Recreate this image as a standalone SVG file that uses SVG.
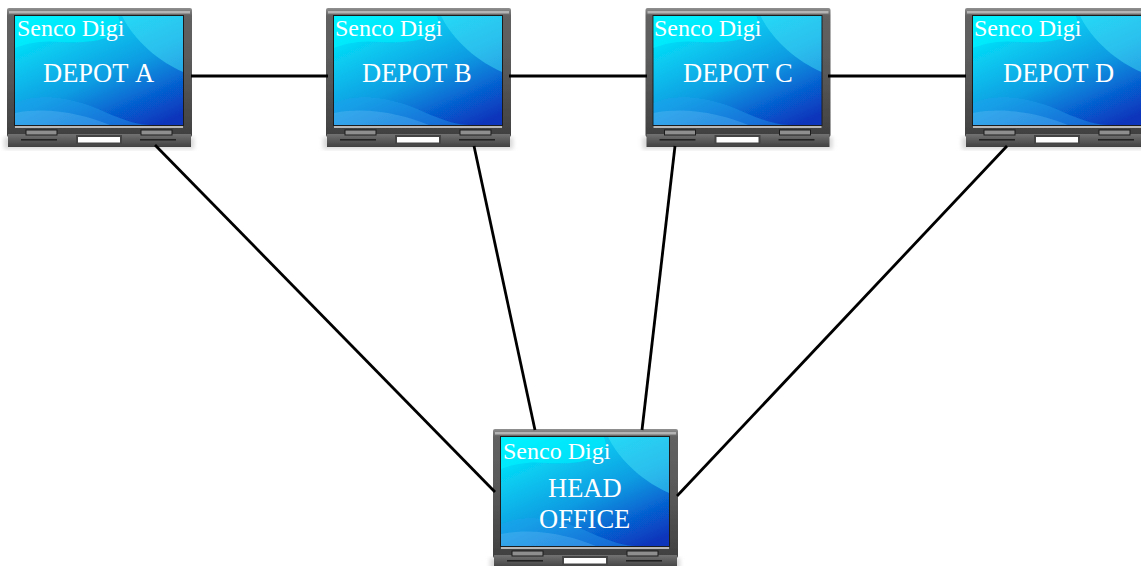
<svg xmlns="http://www.w3.org/2000/svg" width="1141" height="566" viewBox="0 0 1141 566">
<style>
.c{stroke:#000;stroke-width:2.8;fill:none}
text{font-family:"Liberation Serif","Times New Roman",serif;fill:#fff;font-kerning:none}
.b{font-size:24px}
.l{font-size:26.5px}
</style>
<defs>
<linearGradient id="sg" x1=".15" y1="0" x2=".85" y2="1"><stop offset="0" stop-color="#00eeff"/><stop offset=".25" stop-color="#08c8f0"/><stop offset=".55" stop-color="#0c9ce2"/><stop offset=".8" stop-color="#0660d0"/><stop offset="1" stop-color="#0836bc"/></linearGradient>
<linearGradient id="fg" x1="0" y1="0" x2="0" y2="1"><stop offset="0" stop-color="#909090"/><stop offset=".06" stop-color="#626262"/><stop offset=".5" stop-color="#585858"/><stop offset="1" stop-color="#404040"/></linearGradient>
<linearGradient id="bg" x1="0" y1="0" x2="0" y2="1"><stop offset="0" stop-color="#727272"/><stop offset="1" stop-color="#404040"/></linearGradient>
<filter id="bl" x="-5%" y="-5%" width="110%" height="110%"><feGaussianBlur stdDeviation=".7"/></filter>
<filter id="bw"><feGaussianBlur stdDeviation="2"/></filter>
<clipPath id="sc"><rect x="15" y="16" width="168" height="109"/></clipPath>
<g id="lap">
<rect x="4" y="137" width="190" height="12" fill="#d8d8d8" filter="url(#bw)"/>
<g filter="url(#bl)">
<rect x="7" y="8" width="185" height="129" rx="2" fill="url(#fg)"/>
<rect x="9" y="11" width="181" height="2.500" fill="#b4b4b4"/>
<rect x="8" y="134" width="183" height="13" fill="url(#bg)"/>
<rect x="14" y="15" width="170" height="111" fill="#1e1e1e"/>
<rect x="15" y="16" width="168" height="109" fill="url(#sg)"/>
<g clip-path="url(#sc)">
<path d="M122 16C135 42 160 62 183 72V16Z" fill="#50e8fa" opacity=".45"/>
<path d="M15 16H118C128 38 95 44 60 42C40 40 25 44 15 48Z" fill="#00f4ff" opacity=".6"/>
<path d="M15 103C40 92 75 98 105 112C125 121 140 125 150 125H15Z" fill="#2aa0ee" opacity=".4"/>
<path d="M15 113C50 106 85 115 110 125H15Z" fill="#6cc4f8" opacity=".3"/>
</g>
<rect x="15" y="126" width="168" height="2" fill="#b8b8b8"/>
<rect x="26" y="130" width="31" height="5" fill="#8e8e8e" stroke="#1c1c1c" stroke-width="1"/>
<rect x="141" y="130" width="31" height="5" fill="#8e8e8e" stroke="#1c1c1c" stroke-width="1"/>
<rect x="21" y="139" width="36" height="1.600" fill="#222"/>
<rect x="140" y="139" width="36" height="1.600" fill="#222"/>
<rect x="76" y="135" width="46" height="9" fill="#444"/>
<rect x="78" y="137" width="42" height="5.500" fill="#fff"/>
</g>
</g>
</defs>
<rect width="1141" height="566" fill="#fff"/>
<g id="depot-a"><use href="#lap"/><text class="b" x="17" y="36">Senco Digi</text><text class="l" x="43" y="82">DEPOT A</text></g>
<g id="depot-b"><use href="#lap" x="319"/><text class="b" x="335" y="36">Senco Digi</text><text class="l" x="362" y="82">DEPOT B</text></g>
<g id="depot-c"><use href="#lap" x="638.500"/><text class="b" x="654" y="36">Senco Digi</text><text class="l" x="683" y="82">DEPOT C</text></g>
<g id="depot-d"><use href="#lap" x="958"/><text class="b" x="974" y="36">Senco Digi</text><text class="l" x="1003" y="82">DEPOT D</text></g>
<g id="head-office"><use href="#lap" x="486" y="421"/><text class="b" x="503" y="459">Senco Digi</text><text class="l" x="548" y="497">HEAD</text><text class="l" x="539" y="528">OFFICE</text></g>
<g id="connectors">
<line class="c" x1="191" y1="76" x2="328" y2="76"/>
<line class="c" x1="509" y1="76" x2="647" y2="76"/>
<line class="c" x1="828" y1="76" x2="966" y2="76"/>
<line class="c" x1="155" y1="145" x2="495" y2="492"/>
<line class="c" x1="474" y1="146" x2="535" y2="430"/>
<line class="c" x1="675" y1="146" x2="642" y2="430"/>
<line class="c" x1="1007" y1="146" x2="677" y2="496"/>
</g>
</svg>
